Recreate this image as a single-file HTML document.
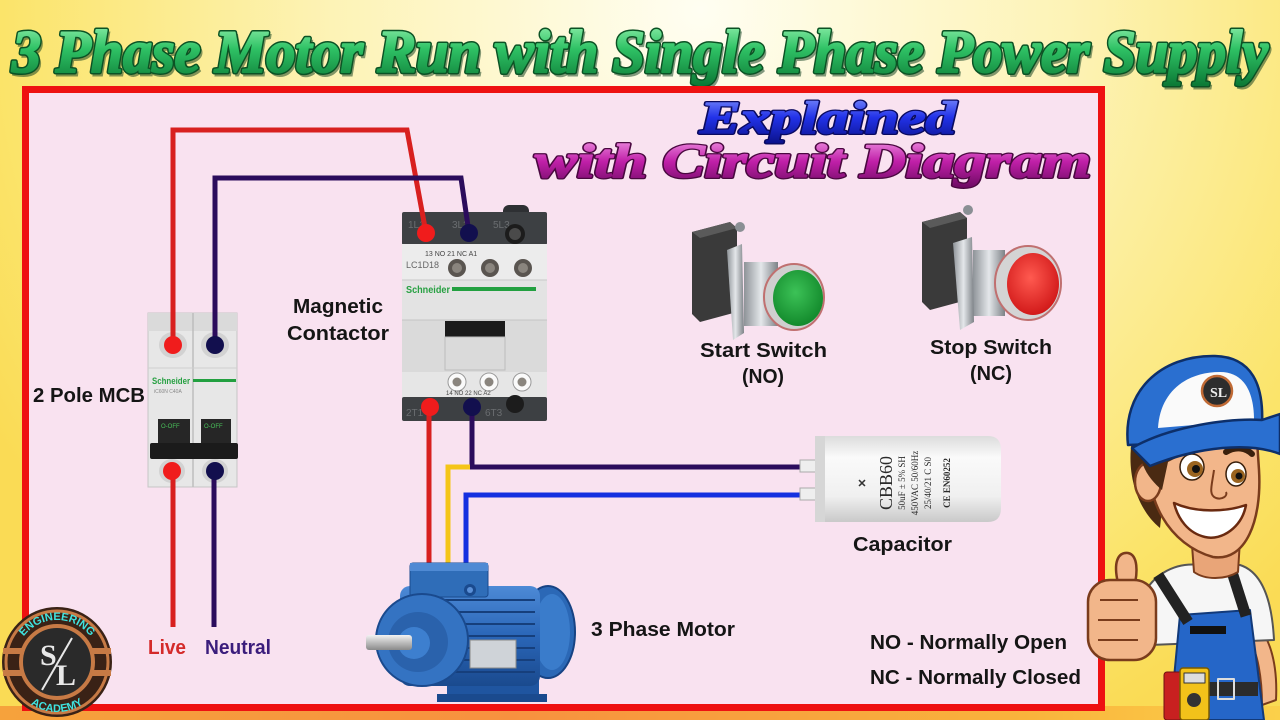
<!DOCTYPE html>
<html><head><meta charset="utf-8">
<style>
html,body{margin:0;padding:0;width:1280px;height:720px;overflow:hidden;background:#fbe46a;}
svg{display:block}
.l{font-family:"Liberation Sans",Arial,sans-serif;font-weight:bold;fill:#151515;font-size:20px}
.t{font-family:"Liberation Serif","DejaVu Serif",serif;font-weight:bold;font-style:italic}
.s{font-family:"Liberation Sans",Arial,sans-serif}
</style></head><body>
<svg width="1280" height="720" viewBox="0 0 1280 720" xmlns="http://www.w3.org/2000/svg">
<defs>
<radialGradient id="bg" cx="700" cy="10" r="820" gradientUnits="userSpaceOnUse">
<stop offset="0" stop-color="#fffef2"/>
<stop offset="0.45" stop-color="#fdf3b6"/>
<stop offset="0.85" stop-color="#fbe46a"/>
<stop offset="1" stop-color="#fadb55"/>
</radialGradient>
<linearGradient id="bot" x1="0" x2="1" y1="0" y2="0">
<stop offset="0" stop-color="#f6a23c"/><stop offset="0.4" stop-color="#f7913f"/><stop offset="0.8" stop-color="#f9b33c"/><stop offset="1" stop-color="#fbd04a"/>
</linearGradient>
<linearGradient id="gT" x1="0" y1="0" x2="0" y2="1">
<stop offset="0" stop-color="#9cf5b4"/><stop offset="0.45" stop-color="#2fc265"/><stop offset="1" stop-color="#0c7a36"/>
</linearGradient>
<linearGradient id="bT" x1="0" y1="0" x2="0" y2="1">
<stop offset="0" stop-color="#8a9bff"/><stop offset="0.5" stop-color="#2232e8"/><stop offset="1" stop-color="#0b128c"/>
</linearGradient>
<linearGradient id="mT" x1="0" y1="0" x2="0" y2="1">
<stop offset="0" stop-color="#f6a0ea"/><stop offset="0.5" stop-color="#c020a8"/><stop offset="1" stop-color="#6c0a62"/>
</linearGradient>
<radialGradient id="gb" cx="0.45" cy="0.4" r="0.6">
<stop offset="0" stop-color="#3cc257"/><stop offset="1" stop-color="#138a2c"/>
</radialGradient>
<radialGradient id="rb" cx="0.45" cy="0.4" r="0.6">
<stop offset="0" stop-color="#ff5a50"/><stop offset="1" stop-color="#d21a1a"/>
</radialGradient>
<linearGradient id="cap" x1="0" y1="0" x2="0" y2="1">
<stop offset="0" stop-color="#dcdcdc"/><stop offset="0.25" stop-color="#fafafa"/><stop offset="0.7" stop-color="#f0f0f0"/><stop offset="1" stop-color="#c9c9c9"/>
</linearGradient>
<linearGradient id="metal" x1="0" y1="0" x2="1" y2="0">
<stop offset="0" stop-color="#8e9398"/><stop offset="0.5" stop-color="#e4e7ea"/><stop offset="1" stop-color="#7d8287"/>
</linearGradient>
<linearGradient id="mb" x1="0" y1="0" x2="0" y2="1">
<stop offset="0" stop-color="#4d8ad6"/><stop offset="0.5" stop-color="#2a66b8"/><stop offset="1" stop-color="#1a4a8e"/>
</linearGradient>
<linearGradient id="shaft" x1="0" y1="0" x2="0" y2="1">
<stop offset="0" stop-color="#f2f2f2"/><stop offset="0.5" stop-color="#bdbdbd"/><stop offset="1" stop-color="#8a8a8a"/>
</linearGradient>
<path id="arcTop" d="M 15 662 A 42 42 0 0 1 99 662"/>
<path id="arcBot" d="M 9 664 A 48 48 0 0 0 105 664"/>
</defs>

<!-- background -->
<rect width="1280" height="720" fill="url(#bg)"/>
<rect x="0" y="706" width="1280" height="14" fill="url(#bot)"/>

<!-- title -->
<text class="t" x="14" y="75" font-size="60" textLength="1256" lengthAdjust="spacingAndGlyphs" fill="#0a3a1a" opacity="0.5" stroke="#0a3a1a" stroke-width="3">3 Phase Motor Run with Single Phase Power Supply</text>
<text class="t" x="12" y="72" font-size="60" textLength="1256" lengthAdjust="spacingAndGlyphs" fill="#0b5224" stroke="#0b5224" stroke-width="5" stroke-linejoin="round">3 Phase Motor Run with Single Phase Power Supply</text>
<text class="t" x="12" y="72" font-size="60" textLength="1256" lengthAdjust="spacingAndGlyphs" fill="url(#gT)" stroke="url(#gT)" stroke-width="2" stroke-linejoin="round">3 Phase Motor Run with Single Phase Power Supply</text>

<!-- frame -->
<rect x="25.5" y="89.5" width="1076" height="618" fill="#f9e2f0" stroke="#ee1111" stroke-width="7"/>

<!-- subtitle -->
<text class="t" x="700" y="133" font-size="46" textLength="256" lengthAdjust="spacingAndGlyphs" fill="#0a0a60" stroke="#0a0a60" stroke-width="4" stroke-linejoin="round">Explained</text>
<text class="t" x="700" y="133" font-size="46" textLength="256" lengthAdjust="spacingAndGlyphs" fill="url(#bT)" stroke="url(#bT)" stroke-width="1.5" stroke-linejoin="round">Explained</text>
<text class="t" x="535" y="177" font-size="48" textLength="556" lengthAdjust="spacingAndGlyphs" fill="#4a0840" stroke="#4a0840" stroke-width="4" stroke-linejoin="round">with Circuit Diagram</text>
<text class="t" x="535" y="177" font-size="48" textLength="556" lengthAdjust="spacingAndGlyphs" fill="url(#mT)" stroke="url(#mT)" stroke-width="1.5" stroke-linejoin="round">with Circuit Diagram</text>

<!-- ===== MCB ===== -->
<g>
<rect x="148" y="313" width="89" height="174" fill="#e7e7e7" stroke="#c6c6c6"/>
<rect x="148" y="313" width="89" height="18" fill="#dadada"/>
<line x1="193" y1="313" x2="193" y2="487" stroke="#bdbdbd" stroke-width="1.5"/>
<ellipse cx="173" cy="345" rx="14" ry="13" fill="#d2d2d2"/>
<ellipse cx="215" cy="345" rx="14" ry="13" fill="#d2d2d2"/>
<line x1="148" y1="368" x2="237" y2="368" stroke="#cfcfcf"/>
<text class="s" x="152" y="384" font-size="9" font-weight="bold" fill="#27a042" textLength="38" lengthAdjust="spacingAndGlyphs">Schneider</text>
<rect x="193" y="379" width="43" height="3" fill="#22a040"/>
<text class="s" x="154" y="393" font-size="5" fill="#888">iC60N   C40A</text>
<rect x="158" y="419" width="32" height="25" fill="#262626"/>
<rect x="201" y="419" width="30" height="25" fill="#262626"/>
<text class="s" x="161" y="428" font-size="6" fill="#49c25a">O-OFF</text>
<text class="s" x="204" y="428" font-size="6" fill="#49c25a">O-OFF</text>
<rect x="150" y="443" width="88" height="16" rx="2" fill="#1b1b1b"/>
<ellipse cx="172" cy="471" rx="13" ry="12" fill="#d2d2d2"/>
<ellipse cx="215" cy="471" rx="13" ry="12" fill="#d2d2d2"/>
</g>

<!-- ===== Contactor ===== -->
<g>
<rect x="503" y="205" width="26" height="14" rx="6" fill="#2e3033"/>
<rect x="402" y="212" width="145" height="33" rx="2" fill="#3d4043"/>
<text class="s" x="408" y="228" font-size="10" fill="#6a6d70">1L1</text>
<text class="s" x="452" y="228" font-size="10" fill="#6a6d70">3L2</text>
<text class="s" x="493" y="228" font-size="10" fill="#6a6d70">5L3</text>
<circle cx="515" cy="234" r="10" fill="#1c1c1c"/>
<circle cx="515" cy="234" r="6" fill="#4a4a4a"/>
<rect x="402" y="244" width="145" height="154" fill="#e3e3e3"/>
<rect x="402" y="244" width="145" height="36" fill="#ececec"/>
<text class="s" x="425" y="256" font-size="7" fill="#444">13   NO  21  NC       A1</text>
<text class="s" x="406" y="268" font-size="9" fill="#666">LC1D18</text>
<circle cx="457" cy="268" r="9" fill="#5a5550"/><circle cx="457" cy="268" r="5" fill="#8a857e"/>
<circle cx="490" cy="268" r="9" fill="#5a5550"/><circle cx="490" cy="268" r="5" fill="#8a857e"/>
<circle cx="523" cy="268" r="9" fill="#5a5550"/><circle cx="523" cy="268" r="5" fill="#8a857e"/>
<line x1="402" y1="280" x2="547" y2="280" stroke="#c9c9c9"/>
<text class="s" x="406" y="293" font-size="10" font-weight="bold" fill="#27a042" textLength="44" lengthAdjust="spacingAndGlyphs">Schneider</text>
<rect x="452" y="287" width="84" height="4" fill="#22a040"/>
<rect x="402" y="320" width="145" height="52" fill="#dadada"/>
<line x1="402" y1="320" x2="547" y2="320" stroke="#c4c4c4"/>
<rect x="445" y="321" width="60" height="16" fill="#1a1a1a"/>
<rect x="445" y="337" width="60" height="33" fill="none" stroke="#bcbcbc"/>
<rect x="402" y="372" width="145" height="26" fill="#e6e6e6"/>
<circle cx="457" cy="382" r="9" fill="#fafafa" stroke="#999"/><circle cx="457" cy="382" r="4.5" fill="#8a857e"/>
<circle cx="489" cy="382" r="9" fill="#fafafa" stroke="#999"/><circle cx="489" cy="382" r="4.5" fill="#8a857e"/>
<circle cx="522" cy="382" r="9" fill="#fafafa" stroke="#999"/><circle cx="522" cy="382" r="4.5" fill="#8a857e"/>
<text class="s" x="446" y="395" font-size="6" fill="#444">14   NO  22  NC        A2</text>
<rect x="402" y="397" width="145" height="24" rx="2" fill="#3d4043"/>
<text class="s" x="406" y="416" font-size="10" fill="#6a6d70">2T1</text>
<text class="s" x="485" y="416" font-size="10" fill="#6a6d70">6T3</text>
<circle cx="515" cy="404" r="9" fill="#1c1c1c"/>
</g>

<!-- ===== Wires ===== -->
<g fill="none" stroke-width="5" stroke-linejoin="miter">
<path d="M173 345 V130 H407 L426 233" stroke="#d8201f"/>
<path d="M215 345 V178 H461 L469 233" stroke="#2b0c5c"/>
<path d="M173 471 V627" stroke="#d8201f"/>
<path d="M214 471 V627" stroke="#2b0c5c"/>
<path d="M429 407 V568" stroke="#d8201f"/>
<path d="M472 407 V467 H808" stroke="#2b0c5c"/>
<path d="M470 467 H448 V568" stroke="#f5c518"/>
<path d="M466 568 V495 H808" stroke="#1530e0"/>
</g>
<!-- terminal dots -->
<circle cx="173" cy="345" r="9" fill="#f01c1c"/>
<circle cx="215" cy="345" r="9" fill="#120f4e"/>
<circle cx="172" cy="471" r="9" fill="#f01c1c"/>
<circle cx="215" cy="471" r="9" fill="#120f4e"/>
<circle cx="426" cy="233" r="9" fill="#f01c1c"/>
<circle cx="469" cy="233" r="9" fill="#120f4e"/>
<circle cx="430" cy="407" r="9" fill="#f01c1c"/>
<circle cx="472" cy="407" r="9" fill="#120f4e"/>

<!-- ===== Motor ===== -->
<g>
<rect x="447" y="678" width="92" height="24" fill="#1f55a0"/>
<rect x="437" y="694" width="110" height="8" fill="#1a4a8e"/>
<ellipse cx="548" cy="632" rx="27" ry="46" fill="#2b68b6" stroke="#174384" stroke-width="2"/>
<ellipse cx="552" cy="632" rx="18" ry="38" fill="#3a7ccb"/>
<rect x="400" y="586" width="140" height="100" rx="10" fill="url(#mb)"/>
<g stroke="#163f7c" stroke-width="2">
<line x1="440" y1="600" x2="535" y2="600"/><line x1="440" y1="612" x2="535" y2="612"/>
<line x1="440" y1="624" x2="535" y2="624"/><line x1="440" y1="636" x2="535" y2="636"/>
<line x1="440" y1="648" x2="535" y2="648"/><line x1="440" y1="660" x2="535" y2="660"/>
<line x1="440" y1="672" x2="535" y2="672"/>
</g>
<rect x="470" y="640" width="46" height="28" fill="#cfd3d8" stroke="#888"/>
<rect x="410" y="563" width="78" height="34" rx="3" fill="#2f6db8" stroke="#1a4a8e"/>
<rect x="410" y="563" width="78" height="8" fill="#4f8ad4"/>
<circle cx="470" cy="590" r="6" fill="#1a4a8e"/><circle cx="470" cy="590" r="3" fill="#5a90d8"/>
<circle cx="422" cy="640" r="46" fill="#3473c2" stroke="#1a4a8e" stroke-width="2"/>
<circle cx="418" cy="642" r="30" fill="#2a62ac"/>
<circle cx="414" cy="643" r="16" fill="#3d7fcf"/>
<rect x="366" y="635" width="46" height="15" rx="3" fill="url(#shaft)"/>
</g>

<!-- ===== Push buttons ===== -->
<g>
<polygon points="692,232 730,222 737,228 737,312 700,322 692,314" fill="#3a3a3a"/>
<polygon points="692,232 730,222 737,228 700,238" fill="#5a5a5a"/>
<circle cx="740" cy="227" r="5" fill="#8a8f94"/>
<rect x="744" y="262" width="34" height="64" fill="url(#metal)"/>
<polygon points="727,250 742,244 744,333 733,340" fill="url(#metal)"/>
<ellipse cx="794" cy="297" rx="30" ry="33" fill="#cfcfcf" stroke="#c07070" stroke-width="2"/>
<ellipse cx="798" cy="298" rx="25" ry="28" fill="url(#gb)"/>
</g>
<g>
<polygon points="922,222 960,212 967,218 967,300 930,310 922,302" fill="#3a3a3a"/>
<polygon points="922,222 960,212 967,218 930,228" fill="#5a5a5a"/>
<circle cx="968" cy="210" r="5" fill="#8a8f94"/>
<rect x="973" y="250" width="32" height="66" fill="url(#metal)"/>
<polygon points="953,243 972,237 974,322 960,330" fill="url(#metal)"/>
<ellipse cx="1028" cy="283" rx="33" ry="37" fill="#d4d4d4" stroke="#c07070" stroke-width="2"/>
<ellipse cx="1033" cy="284" rx="26" ry="31" fill="url(#rb)"/>
</g>

<!-- ===== Capacitor ===== -->
<g>
<rect x="800" y="460" width="16" height="12" fill="#eee" stroke="#aaa"/>
<rect x="800" y="488" width="16" height="12" fill="#eee" stroke="#aaa"/>
<path d="M815 436 H988 Q1001 436 1001 450 V508 Q1001 522 988 522 H815 Z" fill="url(#cap)"/>
<rect x="815" y="436" width="10" height="86" fill="#d6d6d6"/>
<g transform="translate(866,483) rotate(-90)"><text text-anchor="middle" class="s" font-size="11" font-weight="bold" fill="#333">✕</text></g>
<g font-family="Liberation Serif,serif" fill="#2a2a2a">
<g transform="translate(892,483) rotate(-90)"><text text-anchor="middle" font-size="18">CBB60</text></g>
<g transform="translate(905,483) rotate(-90)"><text text-anchor="middle" font-size="9">50uF ± 5%  SH</text></g>
<g transform="translate(918,483) rotate(-90)"><text text-anchor="middle" font-size="9">450VAC  50/60Hz</text></g>
<g transform="translate(931,483) rotate(-90)"><text text-anchor="middle" font-size="9">25/40/21  C  S0</text></g>
<g transform="translate(950,483) rotate(-90)"><text text-anchor="middle" font-size="9" font-weight="bold">CE  EN60252</text></g>
</g>
</g>

<!-- ===== Labels ===== -->
<text class="l" x="33" y="402" textLength="112" lengthAdjust="spacingAndGlyphs">2 Pole MCB</text>
<text class="l" x="293" y="313" textLength="90" lengthAdjust="spacingAndGlyphs">Magnetic</text>
<text class="l" x="287" y="340" textLength="102" lengthAdjust="spacingAndGlyphs">Contactor</text>
<text class="l" x="700" y="357" textLength="127" lengthAdjust="spacingAndGlyphs">Start Switch</text>
<text class="l" x="742" y="383" textLength="42" lengthAdjust="spacingAndGlyphs">(NO)</text>
<text class="l" x="930" y="354" textLength="122" lengthAdjust="spacingAndGlyphs">Stop Switch</text>
<text class="l" x="970" y="380" textLength="42" lengthAdjust="spacingAndGlyphs">(NC)</text>
<text class="l" x="853" y="551" textLength="99" lengthAdjust="spacingAndGlyphs">Capacitor</text>
<text class="l" x="591" y="636" textLength="144" lengthAdjust="spacingAndGlyphs">3 Phase Motor</text>
<text class="l" x="870" y="649" textLength="197" lengthAdjust="spacingAndGlyphs">NO - Normally Open</text>
<text class="l" x="870" y="684" textLength="211" lengthAdjust="spacingAndGlyphs">NC - Normally Closed</text>
<text class="l" x="148" y="654" textLength="38" lengthAdjust="spacingAndGlyphs" style="fill:#d42a2a">Live</text>
<text class="l" x="205" y="654" textLength="66" lengthAdjust="spacingAndGlyphs" style="fill:#3b1d7c">Neutral</text>

<!-- ===== Logo ===== -->
<g>
<circle cx="57" cy="662" r="55" fill="#3a2216"/>
<circle cx="57" cy="662" r="51" fill="none" stroke="#c77a45" stroke-width="3"/>
<rect x="3" y="648" width="108" height="6" fill="#c77a45"/>
<rect x="3" y="670" width="108" height="6" fill="#c77a45"/>
<circle cx="57" cy="662" r="36" fill="#2a2a2a" stroke="#c77a45" stroke-width="4"/>
<text class="s" font-size="11" font-weight="bold" fill="#3fe3e0"><textPath href="#arcTop" startOffset="50%" text-anchor="middle">ENGINEERING</textPath></text>
<text class="s" font-size="11" font-weight="bold" fill="#3fe3e0"><textPath href="#arcBot" startOffset="50%" text-anchor="middle">ACADEMY</textPath></text>
<text x="40" y="665" font-family="Liberation Serif,serif" font-weight="bold" font-size="30" fill="#e8e8e8">S</text>
<text x="56" y="685" font-family="Liberation Serif,serif" font-weight="bold" font-size="30" fill="#e8e8e8">L</text>
<line x1="42" y1="690" x2="72" y2="638" stroke="#e8e8e8" stroke-width="2"/>
</g>

<!-- ===== Character ===== -->
<g stroke-linejoin="round">
<path d="M1250 620 C1268 630 1278 660 1276 700 L1262 705 C1262 680 1258 650 1248 640 Z" fill="#f2b68a" stroke="#7a3c1c" stroke-width="2"/>
<path d="M1140 605 C1148 575 1175 562 1200 565 L1240 565 C1262 572 1272 600 1274 640 L1150 645 Z" fill="#f6f6f6" stroke="#555" stroke-width="2"/>
<path d="M1180 615 L1250 610 L1264 720 L1170 720 Z" fill="#2566c8" stroke="#123a7a" stroke-width="2"/>
<rect x="1190" y="626" width="36" height="8" fill="#111"/>
<path d="M1158 575 L1188 622" stroke="#222" stroke-width="11"/>
<path d="M1232 572 L1246 616" stroke="#222" stroke-width="11"/>
<rect x="1172" y="682" width="86" height="14" fill="#2b2b2b"/>
<rect x="1218" y="679" width="16" height="20" fill="none" stroke="#ddd" stroke-width="2"/>
<rect x="1164" y="672" width="18" height="48" rx="3" fill="#c82020" stroke="#701010"/>
<rect x="1180" y="668" width="29" height="52" rx="3" fill="#f2c21a" stroke="#7a5a00" stroke-width="1.5"/>
<rect x="1184" y="673" width="21" height="10" fill="#ddd" stroke="#333"/>
<circle cx="1194" cy="700" r="7" fill="#333"/>
<path d="M1192 545 L1240 540 L1238 572 C1225 580 1205 580 1194 572 Z" fill="#e9a578" stroke="#7a3c1c" stroke-width="2"/>
<path d="M1132 440 C1126 475 1138 510 1160 528 L1166 470 L1195 448 Z" fill="#4a2a12"/>
<path d="M1150 445 C1142 500 1170 545 1213 557 C1246 562 1262 520 1259 470 L1257 440 Z" fill="#f2b68a" stroke="#7a3c1c" stroke-width="2.5"/>
<ellipse cx="1148" cy="482" rx="13" ry="19" fill="#f2b68a" stroke="#7a3c1c" stroke-width="2.5"/>
<path d="M1140 442 C1138 465 1150 480 1162 490 L1168 462 L1200 446 Z" fill="#4a2a12"/>
<path d="M1176 448 C1186 440 1200 440 1208 446" stroke="#3a200c" stroke-width="6" fill="none" stroke-linecap="round"/>
<path d="M1226 452 C1236 446 1246 448 1252 454" stroke="#3a200c" stroke-width="6" fill="none" stroke-linecap="round"/>
<ellipse cx="1192" cy="467" rx="12" ry="13" fill="#fff" stroke="#3a200c" stroke-width="1.5"/>
<ellipse cx="1236" cy="474" rx="10" ry="12" fill="#fff" stroke="#3a200c" stroke-width="1.5"/>
<circle cx="1195" cy="469" r="8" fill="#9a6420"/><circle cx="1196" cy="469" r="4" fill="#111"/>
<circle cx="1238" cy="476" r="7" fill="#9a6420"/><circle cx="1239" cy="476" r="3.5" fill="#111"/>
<path d="M1214 470 C1212 485 1208 495 1216 498 C1222 500 1228 496 1226 492" stroke="#7a3c1c" stroke-width="2" fill="none"/>
<path d="M1174 503 C1196 513 1226 512 1246 505 C1242 527 1222 541 1205 537 C1188 533 1178 519 1174 503 Z" fill="#fff" stroke="#6a2a10" stroke-width="2.5"/>
<path d="M1128 445 C1122 392 1160 355 1215 356 C1252 357 1264 385 1262 425 L1262 440 Z" fill="#2a6fd0" stroke="#0d2f6a" stroke-width="2.5"/>
<path d="M1158 428 C1160 392 1186 372 1220 372 C1244 372 1254 392 1254 420 Z" fill="#fafafa"/>
<circle cx="1217" cy="391" r="15" fill="#2d2d2d" stroke="#c06a35" stroke-width="2.5"/>
<text x="1210" y="397" font-family="Liberation Serif,serif" font-weight="bold" font-size="14" fill="#eee">SL</text>
<path d="M1132 448 C1170 426 1230 418 1262 420 L1280 414 L1280 454 C1250 442 1200 446 1150 466 Z" fill="#2a6fd0" stroke="#0d2f6a" stroke-width="2.5"/>
<path d="M1118 583 C1113 562 1118 552 1128 553 C1138 555 1138 572 1134 588 Z" fill="#f2b68a" stroke="#7a3c1c" stroke-width="2.5"/>
<rect x="1088" y="580" width="68" height="80" rx="22" fill="#f2b68a" stroke="#7a3c1c" stroke-width="2.5"/>
<path d="M1100 600 H1138 M1098 620 H1140 M1098 640 H1138" stroke="#7a3c1c" stroke-width="2" fill="none"/>
</g>
</svg>
</body></html>
